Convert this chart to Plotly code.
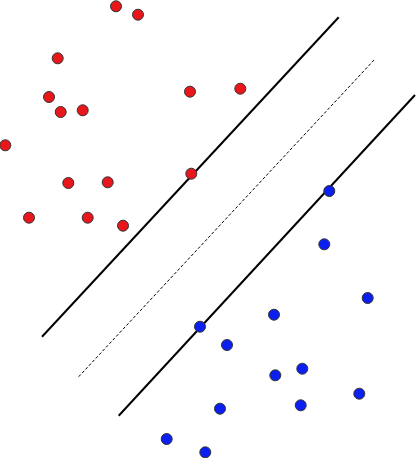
import plotly.graph_objects as go

# class 1 (red) points, image-like coordinates (y grows downward)
red_x = [116, 138, 57.7, 49, 60.7, 82.7, 190, 240.3, 5.3, 68.3, 107.7, 191.3, 29, 87.7, 123]
red_y = [6.3, 14.7, 58.3, 97, 112, 110.3, 91.7, 88.7, 145.3, 183, 182.3, 173.7, 217.7, 217.7, 225.7]

# class 2 (blue) points
blue_x = [329.3, 324.3, 367.7, 274, 200, 227, 302.3, 275.3, 359.3, 220, 300.7, 166.7, 205.3]
blue_y = [191, 244.3, 298, 314.7, 326.7, 345, 368.7, 375.3, 393.7, 408.7, 405.3, 439, 452.3]

# margins and separating hyperplane (end points)
upper_x = [42, 338.7]
upper_y = [336.7, 17.3]
middle_x = [78.7, 375]
middle_y = [376.7, 59]
lower_x = [118.7, 415]
lower_y = [415.7, 95]

fig = go.Figure()

fig.add_trace(go.Scatter(x=upper_x, y=upper_y, mode='lines',
                         line=dict(color='black', width=2)))
fig.add_trace(go.Scatter(x=middle_x, y=middle_y, mode='lines',
                         line=dict(color='black', width=1, dash='3px,2px')))
fig.add_trace(go.Scatter(x=lower_x, y=lower_y, mode='lines',
                         line=dict(color='black', width=2)))

fig.add_trace(go.Scatter(x=red_x, y=red_y, mode='markers',
                         marker=dict(size=11, color='#e8171c',
                                     line=dict(color='#333333', width=1))))
fig.add_trace(go.Scatter(x=blue_x, y=blue_y, mode='markers',
                         marker=dict(size=11, color='#0b1ff0',
                                     line=dict(color='#333333', width=1))))

fig.update_layout(width=416, height=458, showlegend=False,
                  margin=dict(l=0, r=0, t=0, b=0),
                  plot_bgcolor='white', paper_bgcolor='white')
fig.update_xaxes(range=[0, 416], visible=False)
fig.update_yaxes(range=[458, 0], visible=False)

# drop the default page margin so the plot sits flush at the top-left
fig.write_html("out.html", config={'displayModeBar': False},
               post_script="document.body.style.margin='0';")
